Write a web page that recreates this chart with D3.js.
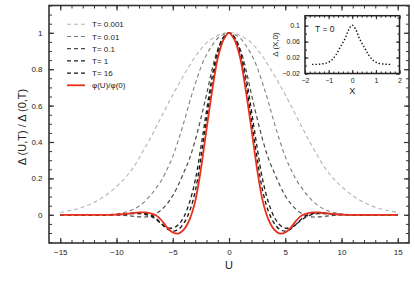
<!DOCTYPE html>
<html>
<head>
<meta charset="utf-8">
<script src="https://cdn.jsdelivr.net/npm/d3@7"></script>
<style>
  body { margin: 0; background: #fff; }
  svg text { font-family: "Liberation Sans", Arial, sans-serif; fill: #222; }
</style>
</head>
<body>
<svg id="svg" width="415" height="293"></svg>
<script>
// half profile (U >= 0), the curves are symmetric in U
const halfU   = [0,0.5,1,1.5,2,2.5,3,3.5,4,4.5,5,5.5,6,6.5,7,7.5,8,8.5,9,9.5,10,11,12,13,14,15];
const tMilli  = [1,0.997,0.985,0.968,0.945,0.91,0.87,0.82,0.77,0.715,0.66,0.6,0.54,0.48,0.42,0.365,0.31,0.26,0.22,0.185,0.155,0.105,0.068,0.042,0.025,0.013];
const tCenti  = [1,0.99,0.97,0.93,0.88,0.81,0.72,0.62,0.51,0.41,0.32,0.25,0.19,0.145,0.105,0.072,0.047,0.03,0.018,0.01,0.005,0.001,0,0,0,0];
const tDeci   = [1,0.975,0.91,0.8,0.66,0.53,0.41,0.31,0.235,0.165,0.105,0.06,0.028,0.006,-0.008,-0.012,-0.011,-0.008,-0.005,-0.003,-0.001,0,0,0,0,0];
const tOne    = [1,0.975,0.9,0.76,0.57,0.37,0.19,0.07,-0.01,-0.055,-0.073,-0.07,-0.05,-0.025,-0.007,0.003,0.006,0.006,0.004,0.002,0.001,0,0,0,0,0];
const tSixteen= [1,0.965,0.88,0.72,0.52,0.31,0.13,0.02,-0.045,-0.08,-0.09,-0.078,-0.05,-0.02,0,0.008,0.01,0.009,0.006,0.003,0.001,0,0,0,0,0];
const phiRatio= [1,0.96,0.86,0.68,0.47,0.25,0.075,-0.025,-0.08,-0.103,-0.097,-0.07,-0.03,-0.003,0.008,0.013,0.013,0.01,0.006,0.003,0.001,0,0,0,0,0];

const legendLabels = ["T= 0.001", "T= 0.01", "T= 0.1", "T= 1", "T= 16", "\u03c6(U)/\u03c6(0)"];

// inset: Delta(X,0) at T = 0
const insetX = [-1.7,-1.5,-1.3,-1.1,-0.9,-0.7,-0.5,-0.3,-0.15,0,0.15,0.3,0.5,0.7,0.9,1.1,1.3,1.5,1.7];
const insetY = [0.003,0.003,0.004,0.006,0.012,0.026,0.047,0.068,0.09,0.101,0.09,0.068,0.047,0.026,0.012,0.006,0.004,0.003,0.003];

const xTicks = [-15,-10,-5,0,5,10,15];
const yTicks = [0,0.2,0.4,0.6,0.8,1];
const insetXTicks = [-2,-1,0,1,2];
const insetYTicks = [-0.02,0.02,0.06,0.1];

let svg = d3.select("#svg");

// mirror the half profile to get the full curve
function fullCurve(vals) {
    let pts = [];
    for (let i = halfU.length - 1; i > 0; i--) pts.push([-halfU[i], vals[i]]);
    for (let i = 0; i < halfU.length; i++) pts.push([halfU[i], vals[i]]);
    return pts;
}

const series = [
    { vals: tMilli,   color: "#b4b4b4", dash: "4,3", w: 1.1 },
    { vals: tCenti,   color: "#808080", dash: "4,3", w: 1.1 },
    { vals: tDeci,    color: "#4a4a4a", dash: "4,3", w: 1.2 },
    { vals: tOne,     color: "#1e1e1e", dash: "4,3", w: 1.3 },
    { vals: tSixteen, color: "#111",    dash: "4,3", w: 1.3 },
    { vals: phiRatio, color: "#e8301c", dash: null,  w: 1.8 }
];

const pLeft = 49, pRight = 409, pTop = 5.5, pBottom = 243;
let x = d3.scaleLinear().domain([-16, 16]).range([pLeft, pRight]);
let y = d3.scaleLinear().domain([-0.155, 1.15]).range([pBottom, pTop]);

let line = d3.line()
    .x(d => x(d[0]))
    .y(d => y(d[1]))
    .curve(d3.curveCatmullRom.alpha(0.5));

// curves
series.forEach(s => {
    svg.append("path")
        .datum(fullCurve(s.vals))
        .attr("d", line)
        .attr("fill", "none")
        .attr("stroke", s.color)
        .attr("stroke-width", s.w)
        .attr("stroke-dasharray", s.dash);
});

// axes with inward ticks on all four sides
function addAxis(gen, tr, major, minor, fmt, majLen, minLen) {
    let gMin = svg.append("g").attr("transform", tr)
        .call(gen.tickValues(minor).tickSize(-minLen).tickFormat(""));
    gMin.select(".domain").remove();
    let g = svg.append("g").attr("transform", tr)
        .call(gen.tickValues(major).tickSize(-majLen).tickPadding(6).tickFormat(fmt));
    g.select(".domain").remove();
    g.selectAll("line").attr("stroke", "#333").attr("stroke-width", 1.2);
    gMin.selectAll("line").attr("stroke", "#333").attr("stroke-width", 1);
    return g;
}
const xMinor = d3.range(-15, 16, 1);
const yMinor = d3.range(-0.15, 1.151, 0.05);
let gx = addAxis(d3.axisBottom(x), `translate(0,${pBottom})`, xTicks, xMinor, d3.format("d"), 5, 3);
addAxis(d3.axisTop(x), `translate(0,${pTop})`, xTicks, xMinor, "", 5, 3);
let gy = addAxis(d3.axisLeft(y), `translate(${pLeft},0)`, yTicks, yMinor, d => d === 0 ? "0" : d === 1 ? "1" : d3.format(".1f")(d), 5, 3);
addAxis(d3.axisRight(y), `translate(${pRight},0)`, yTicks, yMinor, "", 5, 3);
gx.selectAll("text").style("font-size", "8px").attr("fill", "#222");
gy.selectAll("text").style("font-size", "8px").attr("fill", "#222").attr("dx", "-0.5");

svg.append("rect")
    .attr("x", pLeft).attr("y", pTop)
    .attr("width", pRight - pLeft).attr("height", pBottom - pTop)
    .attr("fill", "none").attr("stroke", "#333").attr("stroke-width", 1.6);

// axis titles
svg.append("text")
    .attr("x", x(0)).attr("y", 269)
    .attr("text-anchor", "middle")
    .style("font-size", "11px")
    .text("U");
svg.append("text")
    .attr("transform", `translate(26,127) rotate(-90)`)
    .attr("text-anchor", "middle")
    .style("font-size", "11px")
    .text("\u0394 (U,T) / \u0394 (0,T)");

// legend
series.forEach((s, i) => {
    let ly = 24.3 + i * 12.2;
    svg.append("line")
        .attr("x1", 67).attr("x2", 85).attr("y1", ly).attr("y2", ly)
        .attr("stroke", s.color).attr("stroke-width", s.w)
        .attr("stroke-dasharray", s.dash);
    svg.append("text")
        .attr("x", 92).attr("y", ly + 3)
        .style("font-size", "8px")
        .text(legendLabels[i]);
});

// inset
const iL = 305, iR = 399.5, iT = 15.7, iB = 73.5;
let xi = d3.scaleLinear().domain([-2, 2]).range([iL, iR]);
let yi = d3.scaleLinear().domain([-0.02, 0.125]).range([iB, iT]);

svg.append("rect")
    .attr("x", iL).attr("y", iT).attr("width", iR - iL).attr("height", iB - iT)
    .attr("fill", "#fff");

function addInsetAxis(gen, tr, major, minor, fmt) {
    let gMin = svg.append("g").attr("transform", tr)
        .call(gen.tickValues(minor).tickSize(-2).tickFormat(""));
    gMin.select(".domain").remove();
    gMin.selectAll("line").attr("stroke", "#222");
    let g = svg.append("g").attr("transform", tr)
        .call(gen.tickValues(major).tickSize(-3.5).tickPadding(5).tickFormat(fmt));
    g.select(".domain").remove();
    g.selectAll("line").attr("stroke", "#222");
    g.selectAll("text").style("font-size", "7px").attr("fill", "#222");
    return g;
}
const ixMinor = d3.range(-2, 2.01, 0.2);
const iyMinor = d3.range(-0.02, 0.121, 0.02);
addInsetAxis(d3.axisBottom(xi), `translate(0,${iB})`, insetXTicks, ixMinor, d3.format("d"));
addInsetAxis(d3.axisTop(xi), `translate(0,${iT})`, insetXTicks, ixMinor, "");
addInsetAxis(d3.axisLeft(yi), `translate(${iL},0)`, insetYTicks, iyMinor, d3.format(".2~f"));
addInsetAxis(d3.axisRight(yi), `translate(${iR},0)`, insetYTicks, iyMinor, "");

svg.append("path")
    .datum(insetX.map((v, i) => [v, insetY[i]]))
    .attr("d", d3.line().x(d => xi(d[0])).y(d => yi(d[1])).curve(d3.curveCatmullRom.alpha(0.5)))
    .attr("fill", "none")
    .attr("stroke", "#111")
    .attr("stroke-width", 1.4)
    .attr("stroke-dasharray", "1.4,2");

svg.append("rect")
    .attr("x", iL).attr("y", iT).attr("width", iR - iL).attr("height", iB - iT)
    .attr("fill", "none").attr("stroke", "#222").attr("stroke-width", 1.5);

svg.append("text")
    .attr("x", 315).attr("y", 32)
    .style("font-size", "8.5px")
    .text("T = 0");
svg.append("text")
    .attr("x", xi(0)).attr("y", 94)
    .attr("text-anchor", "middle")
    .style("font-size", "9px")
    .text("X");
svg.append("text")
    .attr("transform", `translate(278,44.5) rotate(-90)`)
    .attr("text-anchor", "middle")
    .style("font-size", "8px")
    .text("\u0394 (X,0)");
</script>
</body>
</html>
